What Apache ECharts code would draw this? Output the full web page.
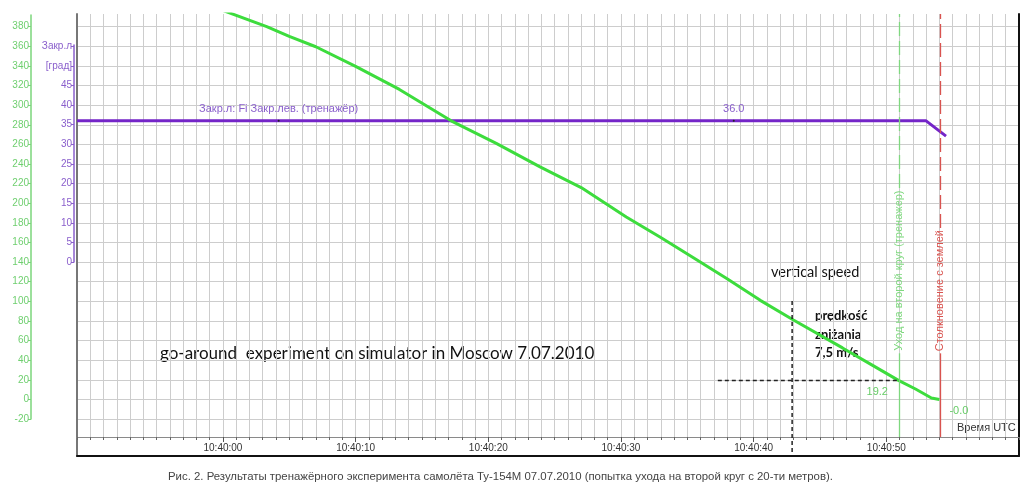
<!DOCTYPE html>
<html><head><meta charset="utf-8">
<script src="https://cdn.jsdelivr.net/npm/echarts@6/dist/echarts.min.js"></script>
<style>html,body{margin:0;padding:0;background:#fff}#c{width:1024px;height:487px}</style>
</head><body><div id="c"></div>
<script>
// time in seconds after 10:40:00 UTC
const altTime  = [0, 3.3, 5, 7, 10, 13.3, 17.2, 20.6, 23.9, 27, 30.4, 33, 35.4, 38, 40.5, 43, 46.7, 49, 50.95, 52.2, 53.4, 54.0];
const altValue = [396.5, 380, 370, 359.5, 339.5, 316, 284, 261, 237, 216, 186, 165, 145, 123, 101, 81, 52.5, 34.5, 19.2, 10.6, 1.5, 0];
const flapTime  = [-11, 53.0, 54.5];
const flapValue = [36, 36, 32.1];
const xTickValues = [0, 10, 20, 30, 40, 50];
const xTickLabels = ['10:40:00', '10:40:10', '10:40:20', '10:40:30', '10:40:40', '10:40:50'];
const altTicks = [-20, 0, 20, 40, 60, 80, 100, 120, 140, 160, 180, 200, 220, 240, 260, 280, 300, 320, 340, 360, 380];
const flapTicks = [0, 5, 10, 15, 20, 25, 30, 35, 40, 45, 50, 55];
const flapTickLabels = ['0', '5', '10', '15', '20', '25', '30', '35', '40', '45', '[град]', 'Закр.л'];
const goAroundTime = 50.95, groundTime = 54.05;
const goAroundReadout = 19.2, groundReadout = 0.0;
const flapReadout = 36.0, flapReadoutTime = 38.5, flapNameTime = 4.2;
const vsLineTime = [42.9, 42.9], vsLineValue = [-53.6, 101.4];
const hLineTime = [37.3, 51.0], hLineValue = [19.2, 19.2];

const FONT = 'Liberation Sans, Arial, sans-serif';
const G_MIN = -38.3, G_MAX = 392.9, FRAME_MIN = -57.7;
const toFlap = v => (v - 140) / 4;
const GREEN = '#3ddc3d', PURPLE = '#7425c8', RED = '#d9534f';
const gTextLow = 47, gTextHigh = 215.6, rTextLow = 47, rTextHigh = 174.8;

const chart = echarts.init(document.getElementById('c'), null, {renderer: 'canvas'});
const pairs = (a, b) => a.map((t, i) => [t, b[i]]);
const hidden = {show: false};
const noLine = {show: false, onZero: false};

function markerLines(t, color, low, high, text) {
  return [
    [{coord: [t, high], lineStyle: {color: color, type: [14, 5], width: 1.3}, label: hidden},
     {coord: [t, G_MAX]}],
    [{coord: [t, low], lineStyle: {color: 'rgba(0,0,0,0)', width: 0},
      label: {show: true, position: 'middle', formatter: text, color: color, fontSize: 11,
              fontFamily: FONT, distance: 0, verticalAlign: 'middle'}},
     {coord: [t, high]}],
    [{coord: [t, G_MIN], lineStyle: {color: color, type: 'solid', width: 1.3}, label: hidden},
     {coord: [t, low]}]
  ];
}

const option = {
  animation: false,
  backgroundColor: '#fff',
  grid: [
    {left: 77, right: 5, top: 14, bottom: 50},
    {left: 77, right: 5, top: 14, bottom: 31},
    {left: 31, width: 1, top: 15, bottom: 68},
    {left: 74, width: 1, top: 45, bottom: 225}
  ],
  xAxis: [
    {gridIndex: 0, type: 'value', min: -11, max: 60, interval: 1, position: 'bottom',
     splitLine: {show: true, lineStyle: {color: '#cdcdcd', width: 1}},
     axisLine: {onZero: false, lineStyle: {color: '#8a8a8a', width: 1}},
     axisTick: {length: 3, lineStyle: {color: '#666'}},
     axisLabel: {customValues: xTickValues, formatter: v => xTickLabels[xTickValues.indexOf(v)] || '',
                 color: '#333', fontSize: 10, margin: 6, fontFamily: FONT}},
    {gridIndex: 0, type: 'value', min: -11, max: 60, position: 'bottom',
     splitLine: hidden, axisLine: noLine, axisLabel: hidden,
     axisTick: {customValues: xTickValues, length: 5, lineStyle: {color: '#555'}}},
    {gridIndex: 1, type: 'value', min: -11, max: 60, position: 'bottom',
     splitLine: hidden, axisTick: hidden, axisLabel: hidden,
     axisLine: {onZero: false, lineStyle: {color: '#111', width: 2}}},
    {gridIndex: 2, type: 'value', show: false, min: 0, max: 1, axisLine: noLine},
    {gridIndex: 3, type: 'value', show: false, min: 0, max: 1, axisLine: noLine}
  ],
  yAxis: [
    {gridIndex: 0, type: 'value', min: G_MIN, max: G_MAX,
     axisLine: noLine, axisLabel: hidden,
     axisTick: {show: false, customValues: altTicks},
     splitLine: {show: true, lineStyle: {color: '#cdcdcd', width: 1}}},
    {gridIndex: 0, type: 'value', min: toFlap(G_MIN), max: toFlap(G_MAX), show: false, splitLine: hidden, axisLine: noLine},
    {gridIndex: 1, type: 'value', min: FRAME_MIN, max: G_MAX, position: 'left',
     splitLine: hidden, axisTick: hidden, axisLabel: hidden,
     axisLine: {show: true, onZero: false, lineStyle: {color: '#777', width: 2}}},
    {gridIndex: 1, type: 'value', min: 0, max: 1, position: 'right',
     splitLine: hidden, axisTick: hidden, axisLabel: hidden,
     axisLine: {show: true, onZero: false, lineStyle: {color: '#111', width: 2}}},
    {gridIndex: 2, type: 'value', min: -20, max: 391.9, position: 'left',
     splitLine: hidden,
     axisLine: {show: true, onZero: false, lineStyle: {color: '#7bd67b', width: 1.5}},
     axisTick: {show: true, customValues: altTicks, length: 3, lineStyle: {color: '#7bd67b'}},
     axisLabel: {customValues: altTicks, color: '#6fcf6f', fontSize: 10, margin: 2, fontFamily: FONT}},
    {gridIndex: 3, type: 'value', min: 0, max: 55.3, position: 'left',
     splitLine: hidden,
     axisLine: {show: true, onZero: false, lineStyle: {color: '#8a5fcc', width: 1.5}},
     axisTick: {show: true, customValues: flapTicks, length: 3, lineStyle: {color: '#8a5fcc'}},
     axisLabel: {customValues: flapTicks, formatter: v => flapTickLabels[flapTicks.indexOf(v)],
                 color: '#8a5fcc', fontSize: 10, margin: 2, fontFamily: FONT}}
  ],
  series: [
    {type: 'line', name: 'Закр.л', xAxisIndex: 0, yAxisIndex: 1, data: pairs(flapTime, flapValue),
     symbol: 'none', lineStyle: {color: PURPLE, width: 3}, z: 3,
     markPoint: {symbol: 'circle', symbolSize: 2, itemStyle: {color: '#222'}, silent: true,
       label: {position: 'top', distance: 5, color: '#8a5fcc', fontSize: 11, fontFamily: FONT},
       data: [
         {coord: [flapNameTime, flapReadout], label: {formatter: 'Закр.л: Fi Закр.лев. (тренажёр)'}},
         {coord: [flapReadoutTime, flapReadout], label: {formatter: flapReadout.toFixed(1)}}
       ]}},
    {type: 'line', name: 'H', xAxisIndex: 0, yAxisIndex: 0, data: pairs(altTime, altValue),
     symbol: 'none', lineStyle: {color: GREEN, width: 3}, z: 4,
     markLine: {silent: true, symbol: ['none', 'none'], animation: false,
       data: [].concat(
         markerLines(goAroundTime, '#7fd87f', gTextLow, gTextHigh, 'Уход на второй круг (тренажер)'),
         markerLines(groundTime, RED, rTextLow, rTextHigh, 'Столкновение с землей'))},
     markPoint: {symbol: 'circle', symbolSize: 0, silent: true,
       label: {color: '#66cc66', fontSize: 11, fontFamily: FONT},
       data: [
         {coord: [goAroundTime, goAroundReadout], label: {position: 'left', distance: 11, offset: [0, 11], formatter: goAroundReadout.toFixed(1)}},
         {coord: [altTime[altTime.length - 1], groundReadout], label: {position: 'right', distance: 10, offset: [0, 12], formatter: '-' + groundReadout.toFixed(1)}}
       ]}},
    {type: 'line', xAxisIndex: 2, yAxisIndex: 2, data: pairs(vsLineTime, vsLineValue), symbol: 'none',
     lineStyle: {color: '#222', width: 1.5, type: [4, 3]}, z: 5, silent: true},
    {type: 'line', xAxisIndex: 2, yAxisIndex: 2, data: pairs(hLineTime, hLineValue), symbol: 'none',
     lineStyle: {color: '#222', width: 1.5, type: [4, 3]}, z: 5, silent: true}
  ],
  graphic: [
    {type: 'text', left: 957, top: 422, style: {text: 'Время UTC', fill: '#333', font: '11px ' + FONT}},
    {type: 'text', left: 771, top: 265, style: {text: 'vertical speed', fill: '#111', font: '14.5px Lato, sans-serif'}},
    {type: 'text', left: 815, top: 307, style: {text: 'prędkość\nzniżania\n7,5 m/s', fill: '#111', font: 'bold 13px Lato, sans-serif', lineHeight: 18.5}},
    {type: 'text', left: 160, top: 345, style: {text: 'go-around  experiment on simulator in Moscow 7.07.2010', fill: '#111', font: '17px Lato, sans-serif'}},
    {type: 'text', left: 168, top: 471, style: {text: 'Рис. 2. Результаты тренажёрного эксперимента самолёта Ту-154М 07.07.2010 (попытка ухода на второй круг с 20-ти метров).', fill: '#444', font: '11.4px ' + FONT}}
  ]
};
chart.setOption(option);
</script></body></html>
